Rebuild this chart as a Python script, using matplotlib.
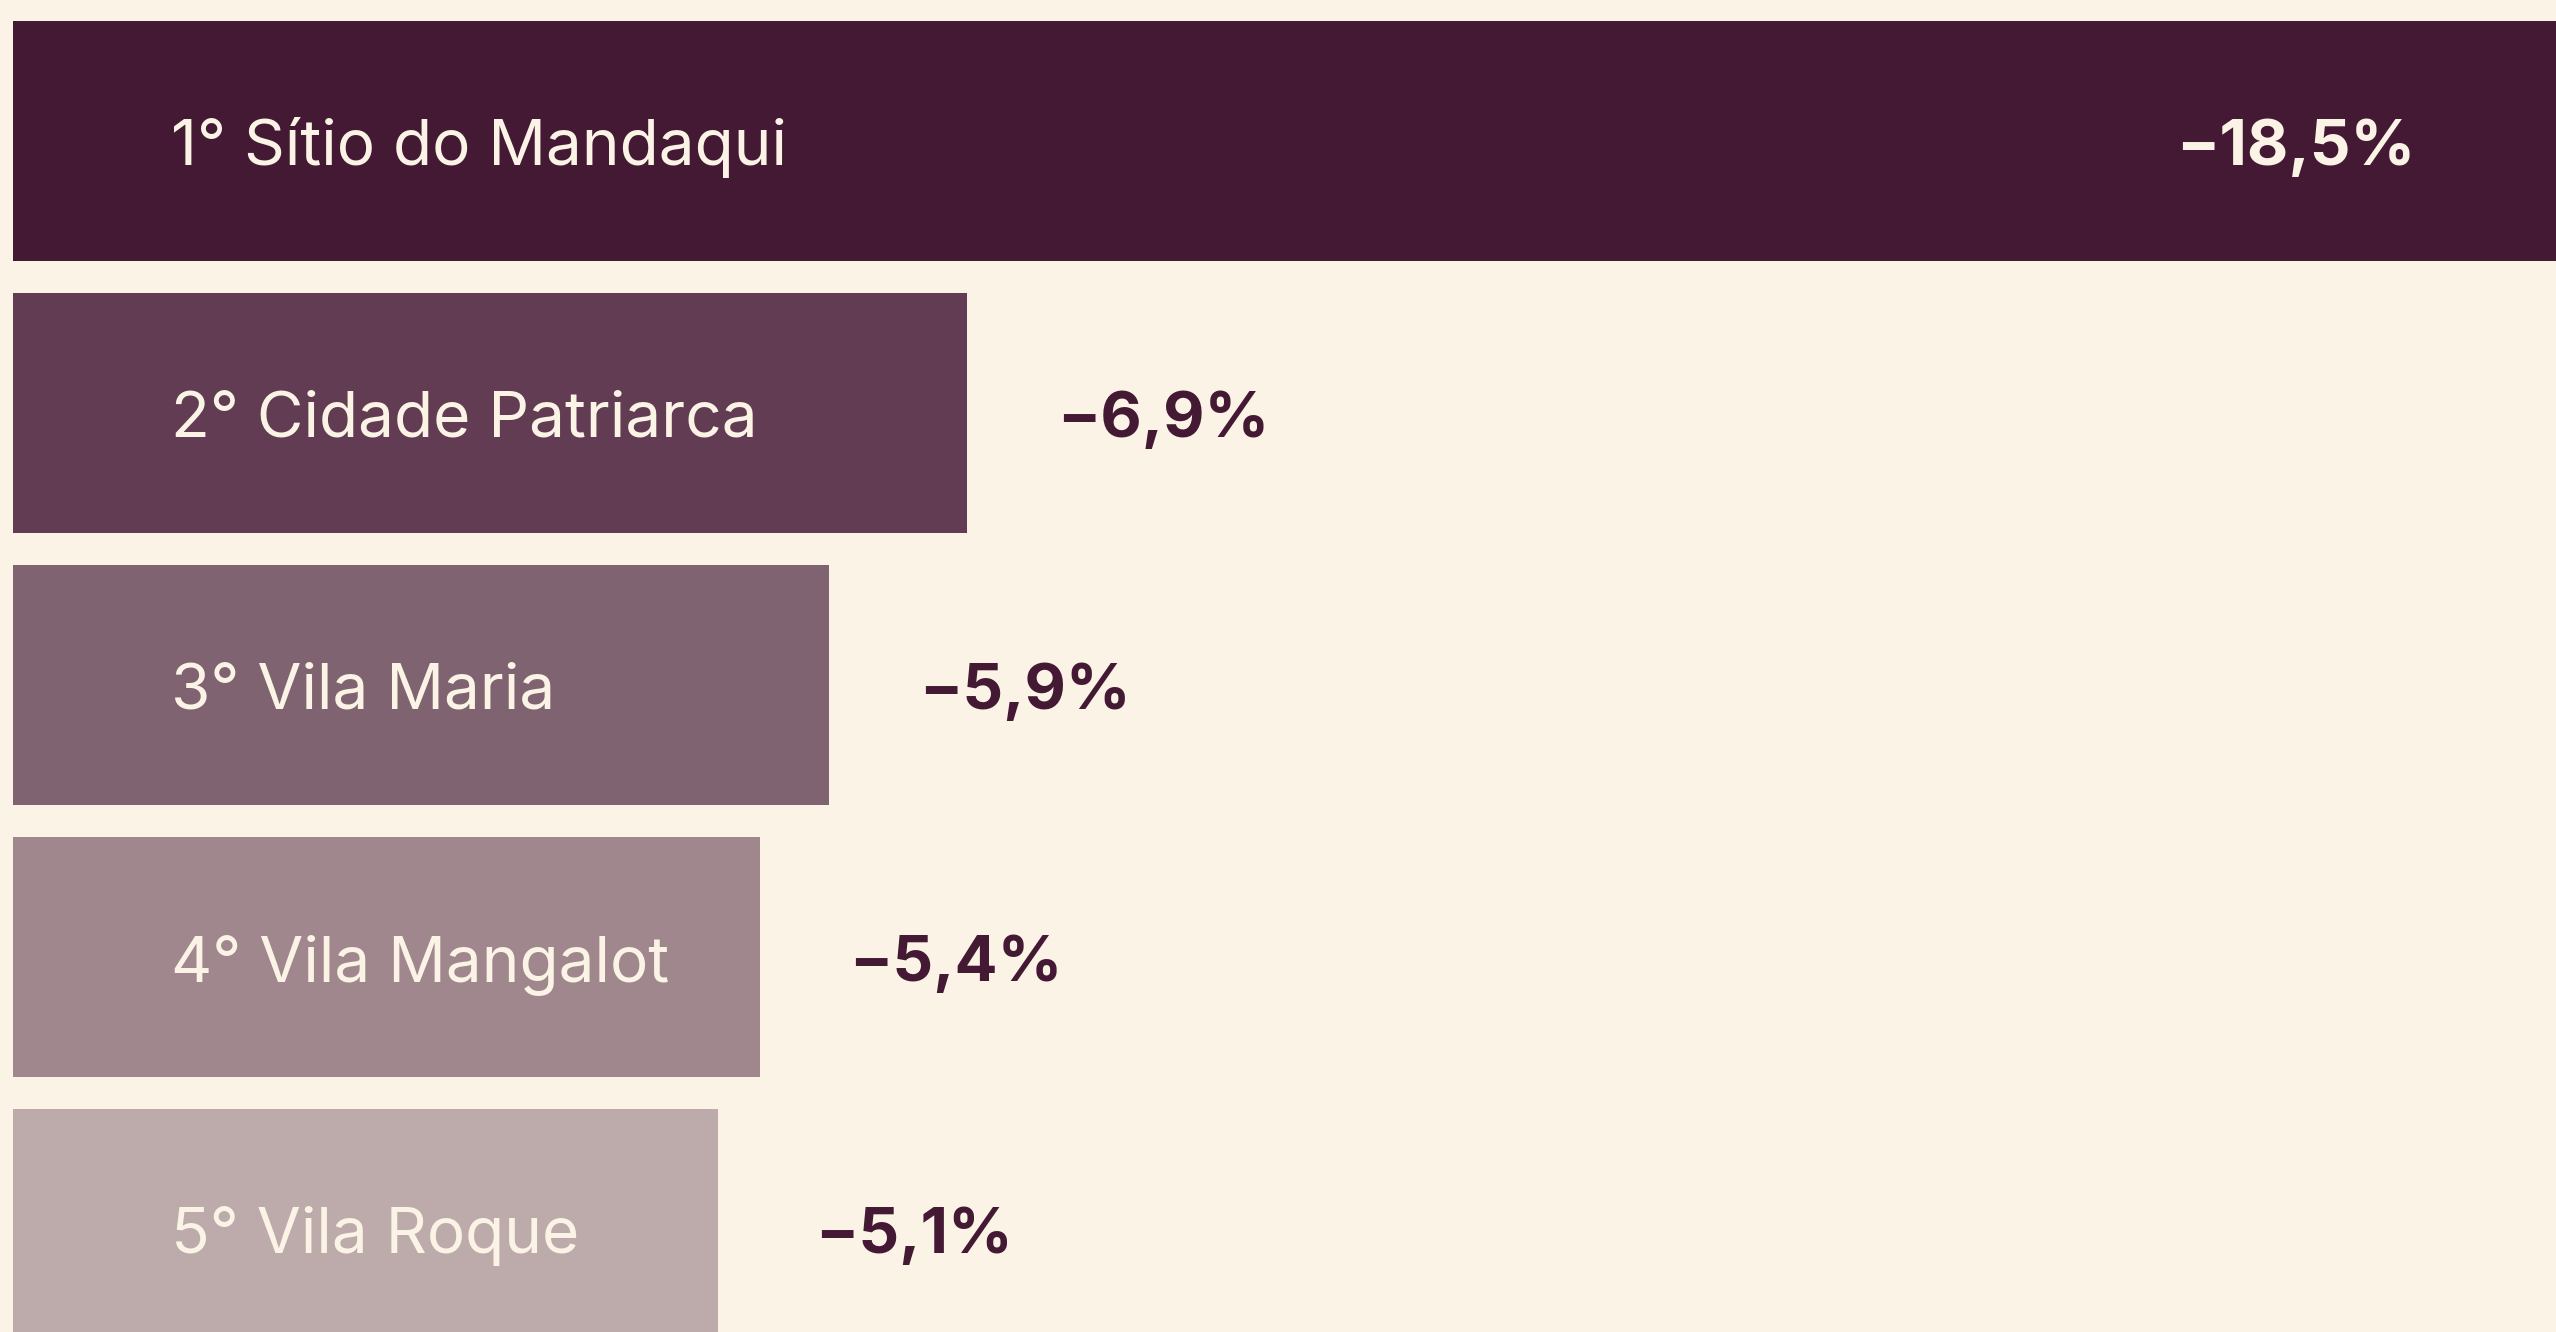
import matplotlib.pyplot as plt

# dados
bairros = ["1° Sítio do Mandaqui", "2° Cidade Patriarca", "3° Vila Maria",
           "4° Vila Mangalot", "5° Vila Roque"]
variacao = [18.5, 6.9, 5.9, 5.4, 5.1]
rotulos = ["−18,5%", "−6,9%", "−5,9%", "−5,4%", "−5,1%"]
cores = ["#441934", "#623c52", "#806370", "#a0868d", "#bdabab"]

fundo = "#fbf3e6"
escuro = "#441934"

plt.rcParams['font.family'] = ['Inter', 'DejaVu Sans']

fig = plt.figure(figsize=(25.56, 13.32), dpi=100, facecolor=fundo)
ax = fig.add_axes([0, 0, 1, 1])
ax.set_facecolor(fundo)

pos = list(range(len(bairros)))
ax.barh(pos, variacao, height=0.882, color=cores, left=0)

# escala: 138.3 px por ponto percentual, zero em x=13px
ax.set_xlim(-13 / 138.3, 2543 / 138.3)
ax.set_ylim(4.379, -0.518)
ax.axis('off')

# texto alinhado pela linha de base, maiúsculas centradas na barra
desce = -17.3

for i, (nome, v, rot) in enumerate(zip(bairros, variacao, rotulos)):
    ax.annotate(nome, (0, i), xytext=(114, desce), textcoords='offset points',
                ha='left', va='baseline', fontsize=46, color=fundo)
    if i == 0:
        ax.annotate(rot, (0.945, i), xycoords=('axes fraction', 'data'),
                    xytext=(0, desce), textcoords='offset points',
                    ha='right', va='baseline', fontsize=46, color=fundo,
                    fontweight='bold')
    else:
        ax.annotate(rot, (v, i), xytext=(141, desce), textcoords='offset points',
                    ha='center', va='baseline', fontsize=46, color=escuro,
                    fontweight='bold')

fig.savefig("out.png", dpi=100, facecolor=fundo)
